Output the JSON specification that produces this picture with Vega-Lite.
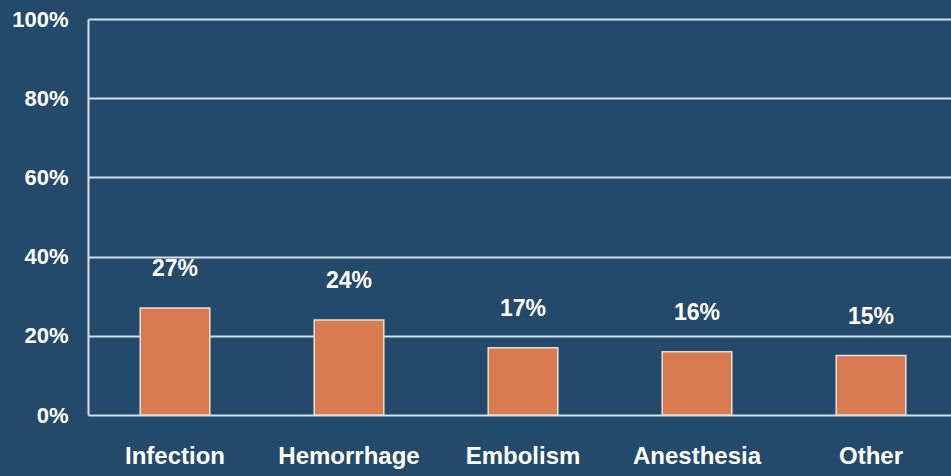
{
  "$schema": "https://vega.github.io/schema/vega-lite/v6.json",
  "autosize": {"type": "none"},
  "padding": {"left": 88, "top": 19, "right": 0, "bottom": 61},
  "width": 870,
  "height": 396,
  "background": "#244a6b",
  "config": {
    "view": {"stroke": null},
    "font": "Liberation Sans"
  },
  "data": {
    "values": [
      {"cause": "Infection", "pct": 27},
      {"cause": "Hemorrhage", "pct": 24},
      {"cause": "Embolism", "pct": 17},
      {"cause": "Anesthesia", "pct": 16},
      {"cause": "Other", "pct": 15}
    ]
  },
  "encoding": {
    "x": {
      "field": "cause", "type": "nominal", "sort": null,
      "scale": {"paddingInner": 0.6, "paddingOuter": 0.3},
      "axis": {
        "title": null, "labelAngle": 0, "domain": false, "ticks": false,
        "labelColor": "white", "labelFont": "Liberation Sans", "labelFontWeight": "bold",
        "labelFontSize": 24, "labelPadding": 29
      }
    },
    "y": {
      "field": "pct", "type": "quantitative",
      "scale": {"domain": [0, 100]},
      "axis": {
        "title": null, "values": [0, 20, 40, 60, 80, 100],
        "labelExpr": "datum.value + '%'",
        "grid": true, "gridColor": "#d0dfec", "gridWidth": 2, "gridOpacity": 1,
        "domain": true, "domainColor": "#d0dfec", "domainWidth": 2,
        "ticks": false, "labelPadding": 20,
        "labelColor": "white", "labelFont": "Liberation Sans", "labelFontWeight": "bold",
        "labelFontSize": 22
      }
    }
  },
  "layer": [
    {
      "mark": {"type": "bar", "color": "#d97b50", "stroke": "#e8e0d8", "strokeWidth": 1.5}
    },
    {
      "transform": [{"calculate": "datum.pct + '%'", "as": "label"}],
      "mark": {"type": "text", "color": "white", "fontWeight": "bold", "fontSize": 23, "baseline": "alphabetic", "dy": -32},
      "encoding": {
        "text": {"field": "label", "type": "nominal"}
      }
    }
  ]
}
